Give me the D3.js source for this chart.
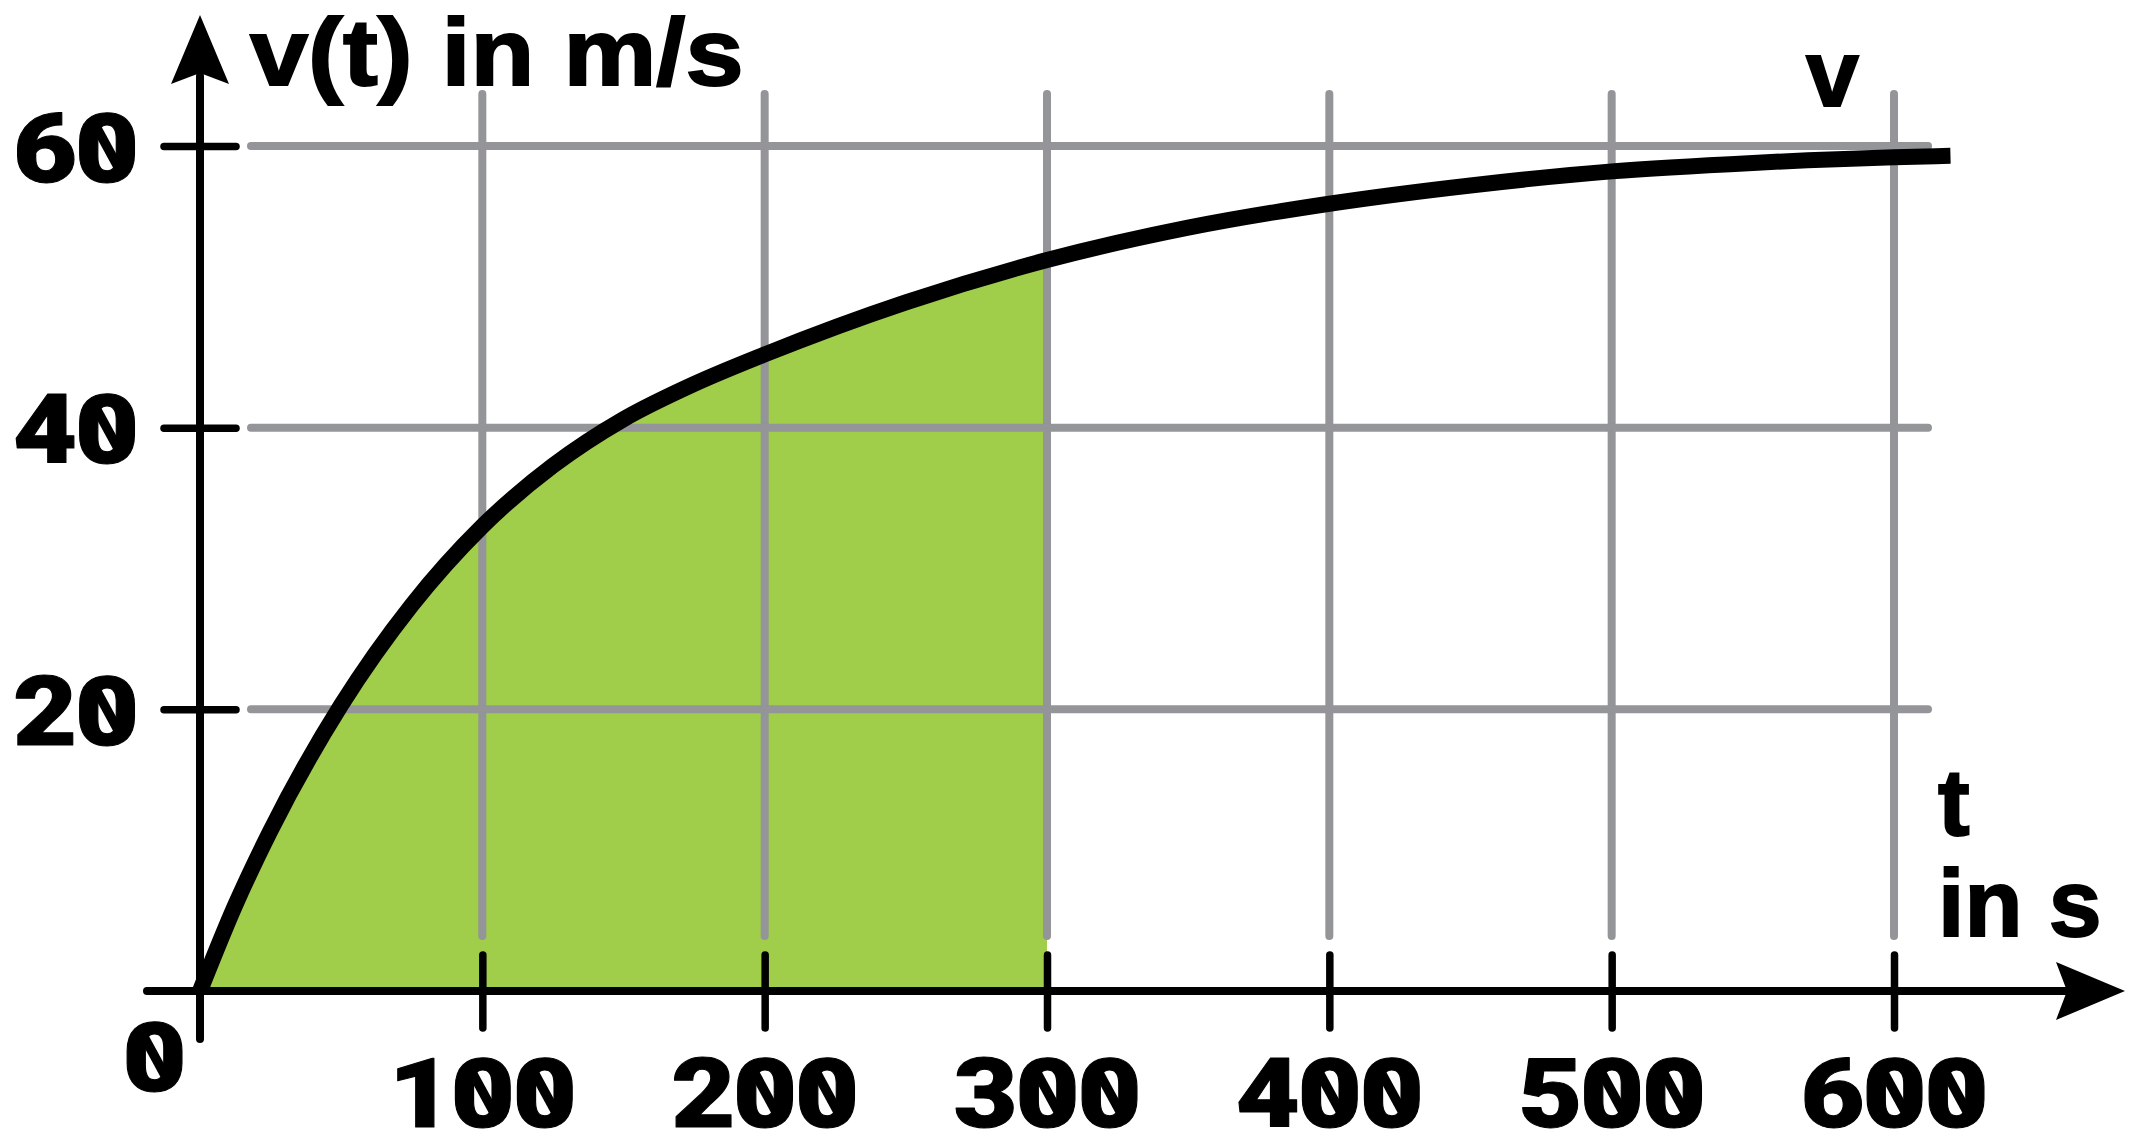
<!DOCTYPE html>
<html>
<head>
<meta charset="utf-8">
<script src="https://cdn.jsdelivr.net/npm/d3@7"></script>
<style>
html, body { margin: 0; padding: 0; background: #fff; overflow: hidden; }
svg { display: block; }
text { font-family: "Liberation Sans", Arimo, Roboto, Arial, sans-serif; font-weight: bold; fill: #000; stroke: #000; }
text.digits { font-family: Roboto, "Liberation Sans", Arial, sans-serif; font-weight: 900; }
</style>
</head>
<body>
<svg id="chart" width="2129" height="1137"></svg>
<script>
//========================
//   Data
//========================
var timeTicks = [100, 200, 300, 400, 500, 600];   // t in s
var speedTicks = [20, 40, 60];                     // v in m/s
var tValues = [0, 12.5, 25, 50, 75, 100, 125, 150, 175, 200, 250, 300, 350, 400, 450, 500, 550, 600, 620];
var vValues = [0, 6.1, 11.4, 20.3, 27.4, 33.0, 37.3, 40.6, 43.1, 45.2, 48.9, 51.9, 54.2, 55.9, 57.2, 58.2, 58.8, 59.2, 59.3];
var shadeEnd = 300;                                // area shaded up to this t
var yTitle = "v(t) in m/s";
var curveName = "v";
var xTitle = ["t", "in s"];

//========================
//   Scales & setup
//========================
var svg = d3.select("#chart");
var x = d3.scaleLinear().domain([0, 600]).range([200, 1894]);
var y = d3.scaleLinear().domain([0, 60]).range([991, 146]);

var gridColor = "#939598";
var digitSize = 97;      // tick label font size
var digitScale = 1.14;   // digits are drawn a bit wider
var digitPitch = 62;     // distance between digit centres (px, after scaling)

var points = tValues.map(function(t, i) { return {t: t, v: vValues[i]}; });
var shaded = points.filter(function(d) { return d.t <= shadeEnd; });

//Green area under the curve
svg.append("path")
  .datum(shaded)
  .attr("fill", "#a0cd4a")
  .attr("d", d3.area()
    .x(function(d) { return x(d.t); })
    .y0(y(0))
    .y1(function(d) { return y(d.v); })
    .curve(d3.curveMonotoneX));

//Grid lines
svg.append("g").selectAll("line").data(timeTicks).join("line")
  .attr("x1", function(d) { return x(d); })
  .attr("x2", function(d) { return x(d); })
  .attr("y1", 94).attr("y2", 936)
  .attr("stroke", gridColor).attr("stroke-width", 8).attr("stroke-linecap", "round");

svg.append("g").selectAll("line").data(speedTicks).join("line")
  .attr("x1", 251).attr("x2", 1928)
  .attr("y1", function(d) { return y(d); })
  .attr("y2", function(d) { return y(d); })
  .attr("stroke", gridColor).attr("stroke-width", 8).attr("stroke-linecap", "round");

//========================
//   Tick labels
//========================
//Every digit gets its own tspan so the slash of each zero can be placed on it.
//align: "middle" centres the label on 0, "end" puts its right edge on 0
function digitLabel(sel, align) {
  sel.each(function() {
    var node = d3.select(this);
    var str = node.text();
    var n = str.length;
    var parent = d3.select(this.parentNode);
    var tr = node.attr("transform");
    node.text(null)
      .attr("class", "digits")
      .attr("x", null).attr("y", 0).attr("dy", null)
      .attr("text-anchor", "middle")
      .style("font-size", digitSize + "px")
      .style("stroke-width", "1px")
      .style("stroke-linejoin", "round");
    for (var i = 0; i < n; i++) {
      var cx;
      if (align == "end") cx = -29 - (n - 1 - i) * digitPitch;
      else cx = (i - (n - 1) / 2) * digitPitch;
      cx = cx / digitScale;
      node.append("tspan").attr("x", cx).attr("y", 0).text(str[i]);
      if (str[i] === "0") {
        var cy = -digitSize * 0.36;
        parent.append("line")
          .attr("transform", tr)
          .attr("x1", cx - 11).attr("y1", cy - 23)
          .attr("x2", cx + 11).attr("y2", cy + 23)
          .attr("stroke", "#000").attr("stroke-width", 8.5);
      }
    }
  });
}

//========================
//   Axes
//========================
var xAxis = svg.append("g")
  .attr("transform", "translate(0," + y(0) + ")")
  .call(d3.axisBottom(x).tickValues(timeTicks).tickSize(40).tickPadding(0));
xAxis.select(".domain").remove();
xAxis.selectAll(".tick line")
  .attr("y1", -36).attr("y2", 37)
  .attr("stroke", "#000").attr("stroke-width", 7.5).attr("stroke-linecap", "round");
xAxis.selectAll(".tick text")
  .attr("transform", "translate(0,136) scale(" + digitScale + ",1)")
  .call(digitLabel, "middle");

var yAxis = svg.append("g")
  .attr("transform", "translate(" + x(0) + ",0)")
  .call(d3.axisLeft(y).tickValues(speedTicks).tickSize(40).tickPadding(0));
yAxis.select(".domain").remove();
yAxis.selectAll(".tick line")
  .attr("x1", -36).attr("x2", 36)
  .attr("stroke", "#000").attr("stroke-width", 7.5).attr("stroke-linecap", "round");
yAxis.selectAll(".tick text")
  .attr("transform", "translate(-64,35) scale(" + digitScale + ",1)")
  .call(digitLabel, "end");

//Origin label
svg.append("g").append("text")
  .attr("transform", "translate(154.5,1091) scale(" + digitScale + ",1)")
  .text(d3.format("d")(0))
  .call(digitLabel, "middle");

//Axis lines with arrow heads
svg.append("line")
  .attr("x1", x(0)).attr("x2", x(0)).attr("y1", 1039).attr("y2", 76)
  .attr("stroke", "#000").attr("stroke-width", 8).attr("stroke-linecap", "round");
svg.append("path")
  .attr("d", "M200,15 L229,84 L200,73 L171,84 Z")
  .attr("fill", "#000");

svg.append("line")
  .attr("x1", 147).attr("x2", 2066).attr("y1", y(0)).attr("y2", y(0))
  .attr("stroke", "#000").attr("stroke-width", 8).attr("stroke-linecap", "round");
svg.append("path")
  .attr("d", "M2125,991 L2056,962 L2067,991 L2056,1020 Z")
  .attr("fill", "#000");

//The curve v(t)
svg.append("path")
  .datum(points)
  .attr("fill", "none")
  .attr("stroke", "#000")
  .attr("stroke-width", 16)
  .attr("d", d3.line()
    .x(function(d) { return x(d.t); })
    .y(function(d) { return y(d.v); })
    .curve(d3.curveMonotoneX));

//========================
//   Titles
//========================
svg.append("text")
  .attr("transform", "translate(250,85) scale(1.1,1)")
  .style("font-size", "95px")
  .style("stroke-width", "2px")
  .text(yTitle);

svg.append("text")
  .attr("x", 1806).attr("y", 106)
  .style("font-size", "95px")
  .style("stroke-width", "2px")
  .text(curveName);

svg.append("text")
  .attr("x", 1938).attr("y", 835)
  .style("font-size", "95px")
  .style("stroke-width", "2px")
  .text(xTitle[0]);
svg.append("text")
  .attr("x", 1938).attr("y", 936)
  .style("font-size", "95px")
  .style("stroke-width", "2px")
  .text(xTitle[1]);
</script>
</body>
</html>
